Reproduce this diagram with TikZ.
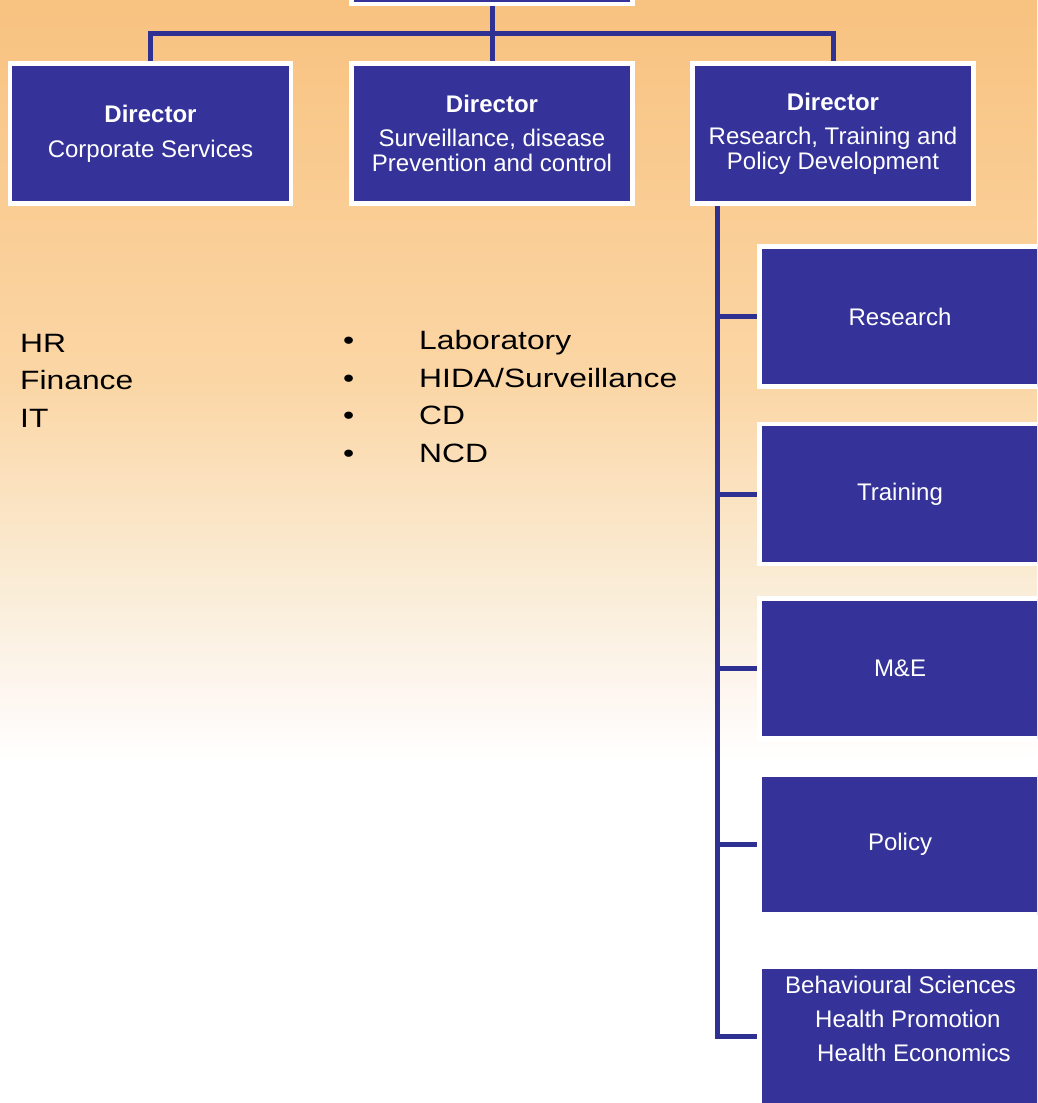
\documentclass[tikz,border=0pt]{standalone}
\usepackage{fontspec}
\setmainfont{Liberation Sans}
\newfontfamily\listfont[FakeStretch=1.2]{Liberation Sans}
\definecolor{boxblue}{RGB}{53,51,153}
\definecolor{wireblue}{RGB}{46,49,146}
\definecolor{bgA}{RGB}{248,194,128}
\definecolor{bgB}{RGB}{251,214,165}
\definecolor{bgC}{RGB}{250,238,218}
\definecolor{bgD}{RGB}{254,247,242}
\pgfdeclarelayer{bg}
\pgfdeclarelayer{wires}
\pgfsetlayers{bg,wires,main}
\begin{document}
\begin{tikzpicture}[x=1pt,y=-1pt,
  orgbox/.style={rectangle, fill=boxblue, draw=white, line width=4.5pt,
    minimum width=281pt, minimum height=140pt, inner sep=0pt, text=white,
    align=center, font=\fontsize{24}{25}\selectfont},
  wire/.style={draw=wireblue, line width=5pt, line join=miter},
  listtxt/.style={anchor=base west, inner sep=0pt, text=black,
    font=\listfont\fontsize{26.5}{30}\selectfont},
  boxline/.style={anchor=base west, inner sep=0pt, text=white,
    font=\fontsize{24}{25}\selectfont}]
\useasboundingbox (0,0) rectangle (1037,1103);
\clip (0,0) rectangle (1037,1103);

\begin{pgfonlayer}{bg}
  \fill[white] (0,0) rectangle (1037,1103);
  \shade[top color=bgA, bottom color=bgB] (0,0) rectangle (1037,380);
  \shade[top color=bgB, bottom color=bgC] (0,380) rectangle (1037,600);
  \shade[top color=bgC, bottom color=bgD] (0,600) rectangle (1037,700);
  \shade[top color=bgD, bottom color=white] (0,700) rectangle (1037,760);
\end{pgfonlayer}

% boxes
\node[orgbox] (top) at (492,-66) {};
\node[orgbox] (d1) at (150.5,133.5) {\textbf{Director}\\[10pt]Corporate Services};
\node[orgbox] (d2) at (492,133.5) {\textbf{Director}\\[9pt]Surveillance, disease\\Prevention and control};
\node[orgbox] (d3) at (833,133.5) {\textbf{Director}\\[9pt]Research, Training and\\Policy Development};

\node[orgbox] (r1) at (900,316.5) {Research};
\node[orgbox] (r2) at (900,494) {Training};
\node[orgbox] (r3) at (900,668.5) {M\&E};
\node[orgbox] (r4) at (900,844.5) {Policy};
\node[orgbox] (r5) at (900,1036.5) {};
\node[boxline] (t5a) at (785,993.5) {Behavioural Sciences};
\node[boxline] (t5b) at (815,1027.5) {Health Promotion};
\node[boxline] (t5c) at (817,1061.5) {Health Economics};

% lists
\node[listtxt] (lhr) at (20,352) {HR};
\node[listtxt] (lfin) at (20,389.5) {Finance};
\node[listtxt] (lit) at (20,427) {IT};

\node[listtxt] (b1) at (343,349.5) {•};
\node[listtxt] (b2) at (343,387) {•};
\node[listtxt] (b3) at (343,424.5) {•};
\node[listtxt] (b4) at (343,462) {•};
\node[listtxt] (l1) at (419,349.5) {Laboratory};
\node[listtxt] (l2) at (419,387) {HIDA/Surveillance};
\node[listtxt] (l3) at (419,424.5) {CD};
\node[listtxt] (l4) at (419,462) {NCD};

% connectors
\begin{pgfonlayer}{wires}
  \coordinate (hub) at (492,33);
  \draw[wire] (top.south) -- (hub) -- (d2.north);
  \draw[wire] (d1.north) |- (hub) -| (d3.north);
  \coordinate (sptop) at ([xshift=27.5pt]d3.south west);
  \coordinate (spbot) at (sptop |- r5.west);
  \draw[wire] (sptop) -- (spbot) -- (r5.west);
  \foreach \n in {r1,r2,r3,r4} \draw[wire] (sptop |- \n.west) -- (\n.west);
\end{pgfonlayer}
\end{tikzpicture}
\end{document}
